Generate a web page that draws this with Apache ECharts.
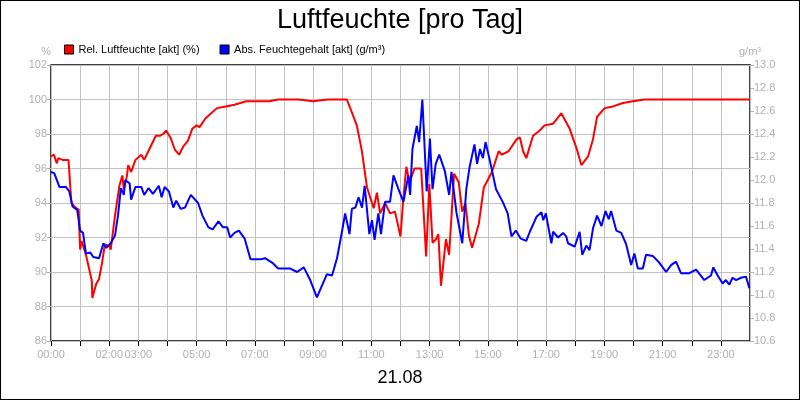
<!DOCTYPE html>
<html><head><meta charset="utf-8">
<script src="https://cdn.jsdelivr.net/npm/echarts@6/dist/echarts.min.js"></script>
<style>html,body{margin:0;padding:0;background:#fff}#c{width:800px;height:400px;box-sizing:border-box;border:1px solid #000}</style>
</head><body><div id="c"></div>
<script>
const hourLabels = [0,2,3,5,7,9,11,13,15,17,19,21,23];
const relHours = [0,0.1,0.2,0.25,0.4,0.6,0.7,0.8,0.95,1.0,1.05,1.2,1.4,1.42,1.55,1.65,1.75,1.85,2.0,2.05,2.2,2.35,2.45,2.5,2.6,2.65,2.75,2.9,3.1,3.2,3.4,3.6,3.75,3.85,3.95,4.1,4.25,4.4,4.55,4.7,4.85,5.0,5.1,5.3,5.5,5.7,6.0,6.3,6.7,7.2,7.5,7.8,8.5,9.0,9.5,10.0,10.16,10.33,10.5,10.67,10.85,11.08,11.19,11.3,11.47,11.64,11.81,12.0,12.09,12.2,12.31,12.48,12.71,12.88,12.99,13.1,13.22,13.3,13.39,13.56,13.67,13.84,14.0,14.12,14.23,14.35,14.46,14.69,14.86,15.14,15.37,15.48,15.71,15.99,16.1,16.21,16.32,16.55,16.78,16.95,17.24,17.52,17.81,18.04,18.21,18.44,18.61,18.75,19.01,19.3,19.64,19.98,20.38,21,22,23,24];
const relValues = [96.7,96.8,96.3,96.6,96.5,96.5,94.0,93.8,93.6,91.3,91.8,91.0,89.5,88.5,89.3,89.6,90.5,91.6,91.5,91.3,93.3,95.0,95.6,94.8,95.5,96.2,95.8,96.5,96.8,96.5,97.2,97.9,97.9,98.0,98.2,97.8,97.1,96.8,97.3,97.6,98.3,98.5,98.4,98.9,99.2,99.5,99.6,99.7,99.9,99.9,99.9,100,100,99.9,100,100,100,99.25,98.5,97.05,94.9,93.7,94.6,93.4,94.0,93.4,93.5,92.06,94.1,96.1,95.2,96.0,96.0,90.9,95.1,91.7,91.9,92.2,89.2,91.9,91.0,95.7,95.2,93.5,94.0,92.1,91.4,92.8,94.9,95.8,97.0,96.8,97.0,97.7,97.8,97.0,96.6,97.9,98.2,98.5,98.6,99.2,98.3,97.2,96.2,96.7,97.7,99.0,99.5,99.6,99.8,99.9,100,100,100,100,100];
const absHours = [0,0.11,0.29,0.51,0.63,0.74,0.8,0.9,1.0,1.1,1.2,1.35,1.45,1.65,1.8,1.9,2.05,2.2,2.3,2.4,2.5,2.55,2.7,2.75,2.9,3.1,3.2,3.35,3.5,3.7,3.8,3.9,4.05,4.2,4.3,4.45,4.6,4.8,5.05,5.2,5.4,5.55,5.75,5.9,6.05,6.15,6.3,6.45,6.65,6.85,7.2,7.35,7.6,7.8,8.22,8.45,8.68,8.9,9.13,9.3,9.47,9.65,9.82,9.99,10.1,10.25,10.33,10.45,10.56,10.68,10.77,10.93,11.02,11.11,11.24,11.33,11.47,11.64,11.76,11.93,12.1,12.27,12.33,12.41,12.56,12.64,12.75,12.9,13.01,13.1,13.21,13.33,13.52,13.67,13.75,13.92,14.12,14.26,14.37,14.54,14.63,14.73,14.83,14.92,15.05,15.28,15.51,15.68,15.81,15.96,16.13,16.32,16.44,16.67,16.84,16.9,16.99,17.18,17.24,17.41,17.58,17.69,17.75,17.98,18.15,18.24,18.38,18.49,18.61,18.75,18.9,19.04,19.15,19.23,19.41,19.58,19.75,19.92,20.03,20.15,20.32,20.43,20.66,20.89,21.12,21.29,21.46,21.63,21.92,22.15,22.43,22.66,22.74,22.89,23.06,23.17,23.29,23.4,23.52,23.69,23.86,23.98];
const absValues = [12.07,12.06,11.94,11.94,11.9,11.77,11.77,11.74,11.56,11.54,11.36,11.37,11.33,11.32,11.45,11.41,11.45,11.52,11.69,11.93,11.87,12.0,11.97,11.83,11.94,11.94,11.87,11.93,11.88,11.95,11.85,11.94,11.9,11.76,11.82,11.75,11.76,11.87,11.8,11.69,11.59,11.57,11.64,11.59,11.59,11.5,11.54,11.56,11.49,11.31,11.31,11.32,11.28,11.23,11.23,11.2,11.24,11.13,10.98,11.08,11.18,11.17,11.32,11.55,11.71,11.53,11.75,11.76,11.85,11.76,11.95,11.53,11.65,11.48,11.71,11.53,11.81,11.81,12.04,11.92,11.81,12.04,11.87,12.27,12.47,12.33,12.7,11.9,12.36,11.92,12.14,12.22,12.08,11.87,12.07,11.72,11.45,11.92,12.11,12.31,12.14,12.27,12.19,12.33,12.19,11.92,11.81,11.71,11.51,11.56,11.49,11.47,11.55,11.68,11.72,11.65,11.71,11.45,11.55,11.5,11.54,11.51,11.45,11.42,11.55,11.35,11.43,11.39,11.58,11.69,11.6,11.73,11.66,11.73,11.56,11.54,11.44,11.26,11.36,11.23,11.23,11.35,11.34,11.28,11.2,11.26,11.29,11.19,11.19,11.22,11.13,11.17,11.24,11.17,11.1,11.13,11.09,11.15,11.13,11.15,11.16,11.06];
const gray = '#b0b0b0';
const chart = echarts.init(document.getElementById('c'));
chart.setOption({
  animation:false,
  title:{text:'Luftfeuchte [pro Tag]',left:'center',top:1,textStyle:{fontFamily:'Arial, Liberation Sans',fontSize:27,fontWeight:'normal',color:'#000'}},
  legend:{left:58,top:38,itemWidth:9,itemHeight:9,itemGap:20,icon:'rect',
    textStyle:{fontFamily:'Liberation Sans',fontSize:11,color:'#000'},
    data:[{name:'Rel. Luftfeuchte [akt] (%)',itemStyle:{borderColor:'#000',borderWidth:1}},{name:'Abs. Feuchtegehalt [akt] (g/m³)',itemStyle:{borderColor:'#000',borderWidth:1}}]},
  graphic:[{type:'text',left:'center',top:368,style:{text:'21.08',fontFamily:'Liberation Sans',fontSize:18,fill:'#000'}}],
  grid:{left:50,right:49,top:64,bottom:58,show:true,borderColor:'#000',borderWidth:1.5},
  xAxis:{type:'value',min:0,max:24,interval:1,
    axisLine:{show:false},axisTick:{show:true,length:5,lineStyle:{color:'#000'}},
    splitLine:{show:true,lineStyle:{color:'#c0c0c0'}},
    axisLabel:{color:gray,fontFamily:'Liberation Sans',fontSize:11,showMaxLabel:false,
      formatter:v=>hourLabels.includes(v)?String(v).padStart(2,'0')+':00':''}},
  yAxis:[
    {type:'value',min:86,max:102,interval:2,name:'%',nameGap:8,nameTextStyle:{color:gray,align:'right',fontSize:11},
      axisLine:{show:false},axisTick:{show:true,length:4,lineStyle:{color:gray}},
      splitLine:{show:true,lineStyle:{color:'#c0c0c0'}},
      axisLabel:{color:gray,fontFamily:'Liberation Sans',fontSize:11,margin:4}},
    {type:'value',min:10.6,max:13.0,interval:0.2,name:'g/m³',nameGap:8,nameTextStyle:{color:gray,fontSize:11},
      axisLine:{show:false},axisTick:{show:true,length:4,lineStyle:{color:gray}},
      splitLine:{show:false},
      axisLabel:{color:gray,fontFamily:'Liberation Sans',fontSize:11,margin:4,formatter:v=>v.toFixed(1)}}
  ],
  series:[
    {name:'Rel. Luftfeuchte [akt] (%)',type:'line',yAxisIndex:0,showSymbol:false,color:'#ff0000',lineStyle:{width:2},
      data:relHours.map((h,i)=>[h,relValues[i]])},
    {name:'Abs. Feuchtegehalt [akt] (g/m³)',type:'line',yAxisIndex:1,showSymbol:false,color:'#0000ff',lineStyle:{width:2},
      data:absHours.map((h,i)=>[h,absValues[i]])}
  ]
});
</script></body></html>
